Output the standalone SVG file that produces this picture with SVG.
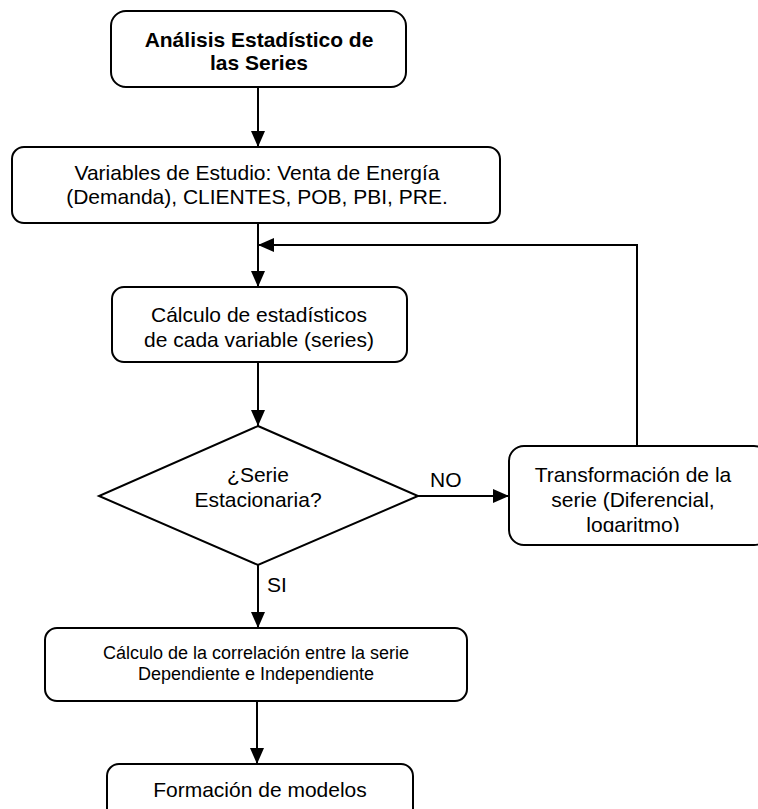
<svg xmlns="http://www.w3.org/2000/svg" width="758" height="809" viewBox="0 0 758 809">
  <style>
    .box { fill: #ffffff; stroke: #000000; stroke-width: 2; }
    .edge { fill: none; stroke: #000000; stroke-width: 2; }
    text { font-family: "Liberation Sans", Arial, sans-serif; font-size: 21px; fill: #000000; text-anchor: middle; }
    .bold { font-weight: bold; }
    .small { font-size: 18px; }
    .lbl { text-anchor: start; }
  </style>
  <defs>
    <marker id="arrow" markerUnits="userSpaceOnUse" markerWidth="16" markerHeight="14" refX="16" refY="7" orient="auto">
      <polygon points="0,0 16,7 0,14" fill="#000000"/>
    </marker>
    <clipPath id="clipTransform">
      <rect x="509" y="446" width="249" height="86"/>
    </clipPath>
  </defs>

  <!-- connectors -->
  <g id="connectors">
    <line class="edge" x1="258" y1="87" x2="258" y2="147" marker-end="url(#arrow)"/>
    <line class="edge" x1="258" y1="223" x2="258" y2="287" marker-end="url(#arrow)"/>
    <line class="edge" x1="258" y1="362" x2="258" y2="426" marker-end="url(#arrow)"/>
    <line class="edge" x1="418" y1="496" x2="509" y2="496" marker-end="url(#arrow)"/>
    <polyline class="edge" points="637,446 637,245 258,245" marker-end="url(#arrow)"/>
    <line class="edge" x1="258" y1="565" x2="258" y2="628" marker-end="url(#arrow)"/>
    <line class="edge" x1="257" y1="701" x2="257" y2="764" marker-end="url(#arrow)"/>
    <text class="lbl" x="430" y="487">NO</text>
    <text class="lbl" x="267" y="592">SI</text>
  </g>

  <g id="analisis">
    <rect class="box" x="111" y="11" width="295" height="76" rx="15" ry="15"/>
    <text class="bold" x="259" y="47">Análisis Estadístico de</text>
    <text class="bold" x="259" y="70">las Series</text>
  </g>

  <g id="variables">
    <rect class="box" x="12" y="147" width="488" height="76" rx="12" ry="12"/>
    <text x="257" y="180">Variables de Estudio: Venta de Energía</text>
    <text x="257" y="204">(Demanda), CLIENTES, POB, PBI, PRE.</text>
  </g>

  <g id="calculo-estadisticos">
    <rect class="box" x="112" y="287" width="295" height="75" rx="12" ry="12"/>
    <text x="259" y="322">Cálculo de estadísticos</text>
    <text x="259" y="347">de cada variable (series)</text>
  </g>

  <g id="estacionaria">
    <polygon class="box" points="258,426 418,496 258,565 99,496"/>
    <text x="258" y="482">¿Serie</text>
    <text x="258" y="507">Estacionaria?</text>
  </g>

  <g id="transformacion">
    <rect class="box" x="509" y="446" width="260" height="99" rx="15" ry="15"/>
    <g clip-path="url(#clipTransform)">
      <text x="633" y="482">Transformación de la</text>
      <text x="633" y="507">serie (Diferencial,</text>
      <text x="633" y="532">logaritmo)</text>
    </g>
  </g>

  <g id="correlacion">
    <rect class="box" x="45" y="628" width="422" height="73" rx="12" ry="12"/>
    <text class="small" x="256" y="659">Cálculo de la correlación entre la serie</text>
    <text class="small" x="256" y="680">Dependiente e Independiente</text>
  </g>

  <g id="modelos">
    <rect class="box" x="107" y="764" width="306" height="70" rx="12" ry="12"/>
    <text x="260" y="797">Formación de modelos</text>
  </g>
</svg>
